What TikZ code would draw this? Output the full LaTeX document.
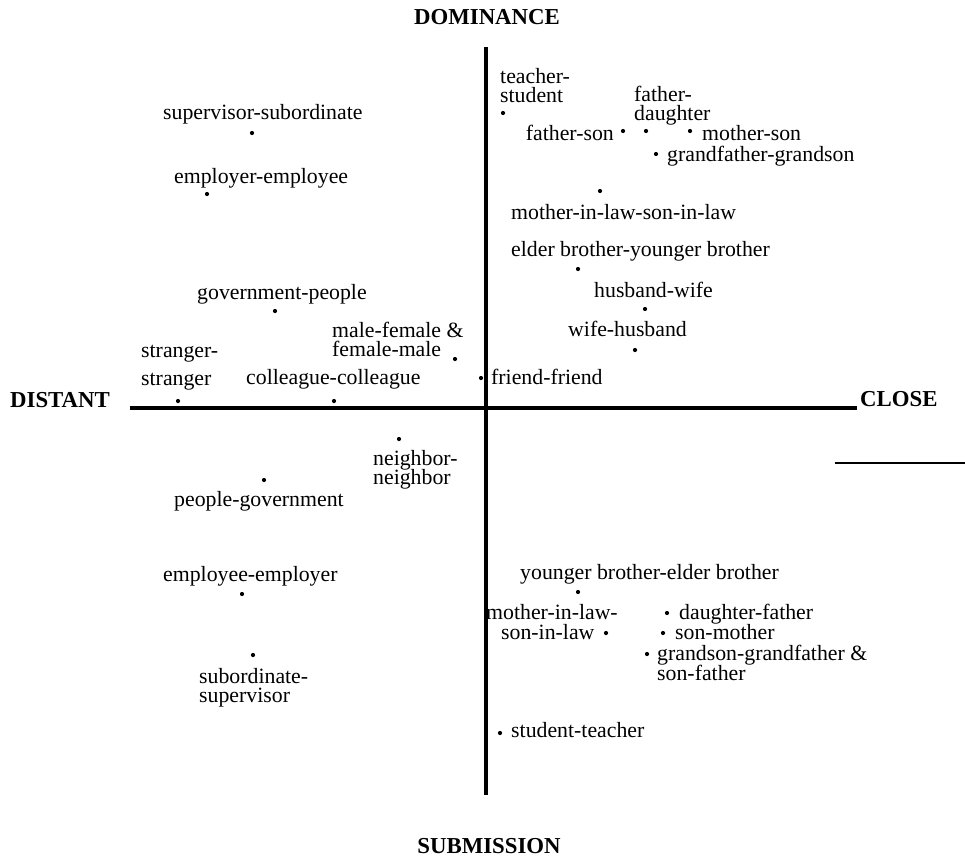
\documentclass[tikz,border=0pt]{standalone}
\usepackage{fontspec}
\setmainfont{Liberation Serif}
\newcommand{\twol}[2]{\vtop{\baselineskip=19pt\lineskiplimit=-100pt\hbox{#1}\hbox{#2}}}
\begin{document}
\begin{tikzpicture}[x=1pt,y=-1pt,
  lbl/.style={inner sep=0pt, anchor=base west, font=\fontsize{21.8}{19}\selectfont},
  lble/.style={lbl, anchor=base east},
  ttl/.style={inner sep=0pt, font=\fontsize{22.8}{22}\selectfont\bfseries},
  pt/.style={circle, fill=black, inner sep=0pt, minimum size=4.2pt},
  axis/.style={line width=3.1pt},
  thin/.style={line width=1.5pt}]
\useasboundingbox (0,0) rectangle (965,865);
% axes
\coordinate (vt) at (486,47);
\coordinate (vb) at (486,795);
\coordinate (hl) at (130,408);
\coordinate (hr) at (857,408);
\coordinate (sl) at (835,463);
\coordinate (sr) at (965,463);
\draw[axis] (vt) -- (vb);
\draw[axis] (hl) -- (hr);
\draw[thin] (sl) -- (sr);
% titles
\node[ttl, anchor=base] (dom) at (487,24) {DOMINANCE};
\node[ttl, anchor=base] (sub) at (489,853) {SUBMISSION};
\node[ttl, anchor=base west] (dist) at (10,407) {DISTANT};
\node[ttl, anchor=base west] (close) at (860,406) {CLOSE};
% top right
\node[lbl] (ts) at (500,83) {\twol{teacher-}{student}};
\node[pt] (tsd) at (503,113) {};
\node[lbl] (fd) at (634,101) {\twol{father-}{daughter}};
\node[pt] (fdd) at (646,131) {};
\node[lble] (fs) at (614,140) {father-son};
\node[pt] (fsd) at (623,131) {};
\node[pt] (msd) at (690,131) {};
\node[lbl] (ms) at (702,140) {mother-son};
\node[pt] (ggd) at (656,154) {};
\node[lbl] (gg) at (667,161) {grandfather-grandson};
\node[pt] (mild) at (600,191) {};
\node[lbl] (mil) at (511,219) {mother-in-law-son-in-law};
\node[lbl] (eb) at (511,256) {elder brother-younger brother};
\node[pt] (ebd) at (578,269) {};
\node[lbl] (hw) at (594,297) {husband-wife};
\node[pt] (hwd) at (645,309) {};
\node[lbl] (wh) at (568,336) {wife-husband};
\node[pt] (whd) at (635,350) {};
\node[pt] (ffd) at (481,378) {};
\node[lbl] (ff) at (491,384) {friend-friend};
% top left
\node[lbl] (ss) at (163,119) {supervisor-subordinate};
\node[pt] (ssd) at (252,133) {};
\node[lbl] (ee) at (174,183) {employer-employee};
\node[pt] (eed) at (207,194) {};
\node[lbl] (gp) at (197,299) {government-people};
\node[pt] (gpd) at (275,311) {};
\node[lbl] (mf) at (332,337) {\twol{male-female \&}{female-male}};
\node[pt] (mfd) at (455,359) {};
\node[lbl] (st) at (141,357) {\vtop{\baselineskip=28pt\lineskiplimit=-100pt\hbox{stranger-}\hbox{stranger}}};
\node[pt] (std) at (178,401) {};
\node[lbl] (cc) at (246,384) {colleague-colleague};
\node[pt] (ccd) at (334,401) {};
% bottom left
\node[pt] (nnd) at (399,439) {};
\node[lbl] (nn) at (373,465) {\twol{neighbor-}{neighbor}};
\node[pt] (pgd) at (264,480) {};
\node[lbl] (pg) at (174,506) {people-government};
\node[lbl] (eer) at (163,581) {employee-employer};
\node[pt] (eerd) at (242,594) {};
\node[pt] (sbd) at (253,655) {};
\node[lbl] (sb) at (199,683) {\twol{subordinate-}{supervisor}};
% bottom right
\node[lbl] (yb) at (520,579) {younger brother-elder brother};
\node[pt] (ybd) at (578,592) {};
\node[lbl] (ml) at (486,619) {\vtop{\baselineskip=20pt\lineskiplimit=-100pt\hbox{mother-in-law-}\hbox{\hspace*{15pt}son-in-law}}};
\node[pt] (mld) at (606,633) {};
\node[pt] (dfd) at (667,613) {};
\node[lbl] (df) at (679,619) {daughter-father};
\node[pt] (smd) at (663,633) {};
\node[lbl] (sm) at (675,639) {son-mother};
\node[pt] (gsd) at (647,654) {};
\node[lbl] (gs) at (657,660) {\vtop{\baselineskip=20pt\lineskiplimit=-100pt\hbox{grandson-grandfather \&}\hbox{son-father}}};
\node[pt] (std2) at (500,733) {};
\node[lbl] (stt) at (511,737) {student-teacher};
\end{tikzpicture}
\end{document}
